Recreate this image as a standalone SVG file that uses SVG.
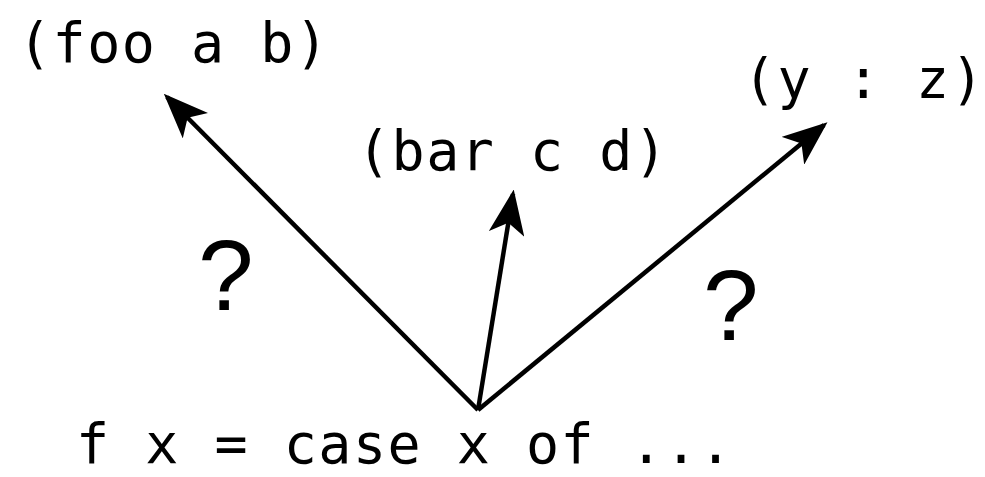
<svg xmlns="http://www.w3.org/2000/svg" width="985" height="477" viewBox="0 0 985 477">
<style>
.code{font-family:"DejaVu Sans Mono","Liberation Mono",monospace;font-size:55px;letter-spacing:1.5px;fill:#000}
.q{font-family:"Liberation Sans",Arial,sans-serif;font-size:100px;fill:#000}
.edge{stroke:#000;stroke-width:4.5;fill:none}
</style>
<defs>
<marker id="ah" markerWidth="10" markerHeight="8" refX="9" refY="4" orient="auto" markerUnits="strokeWidth">
<path d="M0,0 L10,4 L0,8 L2.5,4 Z" fill="#000"/>
</marker>
</defs>
<rect width="985" height="477" fill="#fff"/>
<g id="connectors">
<line class="edge" x1="478" y1="410" x2="167" y2="97" marker-end="url(#ah)"/>
<line class="edge" x1="478" y1="410" x2="513" y2="194" marker-end="url(#ah)"/>
<line class="edge" x1="478" y1="410" x2="824" y2="125" marker-end="url(#ah)"/>
</g>
<g id="foo"><text class="code" x="18" y="62">(foo a b)</text></g>
<g id="bar"><text class="code" x="357" y="170">(bar c d)</text></g>
<g id="yz"><text class="code" x="743" y="98">(y : z)</text></g>
<g id="f"><text class="code" x="76" y="463">f x = case x of ...</text></g>
<g id="q1"><text class="q" x="198" y="310">?</text></g>
<g id="q2"><text class="q" x="703" y="340">?</text></g>
</svg>
